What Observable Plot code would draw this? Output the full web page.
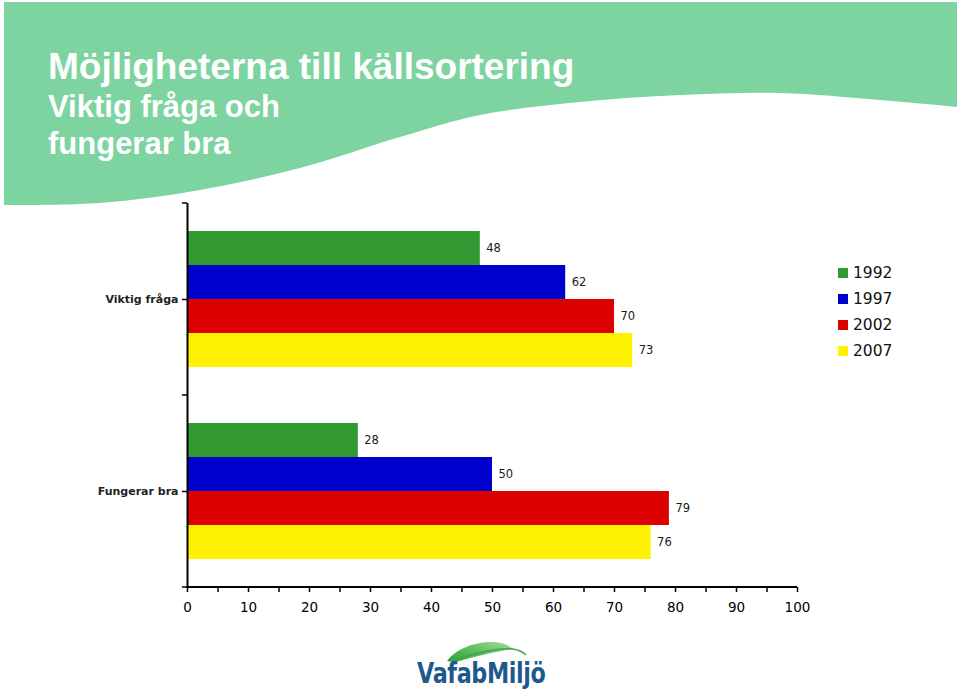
<!DOCTYPE html>
<html>
<head>
<meta charset="utf-8">
<script src="https://cdn.jsdelivr.net/npm/d3@7"></script>
<script src="https://cdn.jsdelivr.net/npm/@observablehq/plot@0.6"></script>
<style>
  body { margin: 0; background: #fff; }
  #wrap { position: relative; width: 960px; height: 696px; overflow: hidden; background: #fff; font-family: "DejaVu Sans", sans-serif; }
  .head { position: absolute; left: 48px; color: #fff; font-family: "Liberation Sans", Arial, sans-serif; font-weight: bold; white-space: nowrap; line-height: 1; }
  #chart { position: absolute; left: 0; top: 190px; }
  #legend { position: absolute; left: 838px; top: 260px; }
  .li { display: flex; align-items: center; height: 26px; font-size: 15.5px; color: #111; }
  .sw { width: 10px; height: 10px; margin-right: 5px; }
  #logo { position: absolute; left: 412px; top: 638px; width: 150px; height: 58px; }
  #logoText { position: absolute; left: 417px; top: 659px; font-family: "DejaVu Sans", sans-serif; font-weight: bold; font-size: 29px; color: #1d5a8c; transform: scaleX(0.77); transform-origin: 0 0; letter-spacing: -0.5px; line-height: 1; }
</style>
</head>
<body>
<div id="wrap">
  <svg id="banner" width="960" height="215" style="position:absolute;left:0;top:0"></svg>
  <div class="head" style="top:48px;font-size:37px;">Möjligheterna till källsortering</div>
  <div class="head" style="top:91px;font-size:31px;">Viktig fråga och</div>
  <div class="head" style="top:128px;font-size:31px;">fungerar bra</div>
  <div id="chart"></div>
  <div id="legend"></div>
  <svg id="logo" viewBox="412 638 150 58"></svg>
  <div id="logoText">VafabMiljö</div>
</div>
<script>
// ---- data ----
const questions = ["Viktig fråga", "Fungerar bra"];
const years = ["1992", "1997", "2002", "2007"];
const viktigFraga = [48, 62, 70, 73];
const fungerarBra = [28, 50, 79, 76];
const yearColors = ["#339933", "#0000cc", "#dd0000", "#fff200"];
const xTicks = d3.range(0, 101, 5);
const xLabelStep = 10;

const seriesByQuestion = [viktigFraga, fungerarBra];
const rows = questions.flatMap((q, qi) =>
  years.map((yr, yi) => ({question: q, year: yr, value: seriesByQuestion[qi][yi]}))
);

// ---- banner (decoration) ----
const wave = [[957,107],[880,100],[780,93],[680,95],[580,102],[480,115],[400,137],[300,168],[200,190],[100,203],[4,205]];
const waveLine = d3.line().curve(d3.curveCatmullRom)(wave);
d3.select("#banner").append("path")
  .attr("d", "M4,2L957,2" + waveLine.replace(/^M/, "L") + "Z")
  .attr("fill", "#7dd4a1");

// ---- chart ----
const chart = Plot.plot({
  width: 960,
  height: 440,
  marginTop: 12,
  marginBottom: 43,
  marginLeft: 187,
  marginRight: 163,
  style: {background: "transparent", fontFamily: "DejaVu Sans, sans-serif", overflow: "visible", color: "#000"},
  x: {domain: [0, 100]},
  y: {domain: years, axis: null, paddingInner: 0, paddingOuter: 0.77},
  fy: {domain: questions, padding: 0},
  color: {domain: years, range: yearColors},
  marks: [
    Plot.barX(rows, {fy: "question", y: "year", x: "value", fill: "year"}),
    Plot.text(rows, {fy: "question", y: "year", x: "value", text: d => String(d.value), textAnchor: "start", dx: 6, fontSize: 11.5, fill: "#1a1a1a"}),
    Plot.ruleX([0], {stroke: "#000", strokeWidth: 2}),
    Plot.axisX({ticks: xTicks, tickFormat: d => d % xLabelStep === 0 ? String(d) : "", tickSize: 5, tickPadding: 10, fontSize: 13.5, label: null, stroke: "#000", strokeWidth: 1.5, fill: "#000"}),
    Plot.axisFy({anchor: "left", tickSize: 5, tickPadding: 4, fontSize: 11, fontWeight: "bold", label: null, stroke: "#000", strokeWidth: 1.5, fill: "#222"})
  ]
});
document.getElementById("chart").appendChild(chart);

// bottom axis line and band-boundary ticks, derived from the plot's scales
(function () {
  const svg = d3.select(chart);
  const xs = chart.scale("x");
  const fys = chart.scale("fy");
  const x0 = xs.apply(0), x1 = xs.apply(100);
  const step = fys.bandwidth != null ? fys.bandwidth : (fys.range[1] - fys.range[0]) / questions.length;
  const starts = questions.map(q => fys.apply(q));
  const bounds = [...starts, starts[starts.length - 1] + step];
  const g = svg.append("g").attr("stroke", "#000");
  g.append("line").attr("x1", x0 - 1).attr("x2", x1).attr("y1", bounds[bounds.length - 1]).attr("y2", bounds[bounds.length - 1]).attr("stroke-width", 2);
  bounds.forEach(b => g.append("line").attr("x1", x0 - 5).attr("x2", x0).attr("y1", b).attr("y2", b).attr("stroke-width", 1.5));
})();

// ---- legend ----
const legend = d3.select("#legend");
years.forEach((yr, i) => {
  const row = legend.append("div").attr("class", "li");
  row.append("div").attr("class", "sw").style("background", yearColors[i]);
  row.append("span").text(yr);
});

// ---- logo leaf (decoration) ----
const logo = d3.select("#logo");
const grad = logo.append("defs").append("linearGradient").attr("id", "lg").attr("x1", 0).attr("x2", 1).attr("y1", 1).attr("y2", 0);
grad.append("stop").attr("offset", 0).attr("stop-color", "#2e9a3c");
grad.append("stop").attr("offset", 0.6).attr("stop-color", "#6cc66a");
grad.append("stop").attr("offset", 1).attr("stop-color", "#a6dc9c");
logo.append("path")
  .attr("d", "M447,661 C455,650 472,642 492,642 C502,642 509,645 513,649 C500,651 480,655 463,660 C457,662 451,662 447,661 Z")
  .attr("fill", "url(#lg)");
logo.append("path")
  .attr("d", "M458,659 C478,652 500,648 513,649 C519,650 523,652 526,655")
  .attr("fill", "none").attr("stroke", "#3aa84a").attr("stroke-width", 1.5);
</script>
</body>
</html>
